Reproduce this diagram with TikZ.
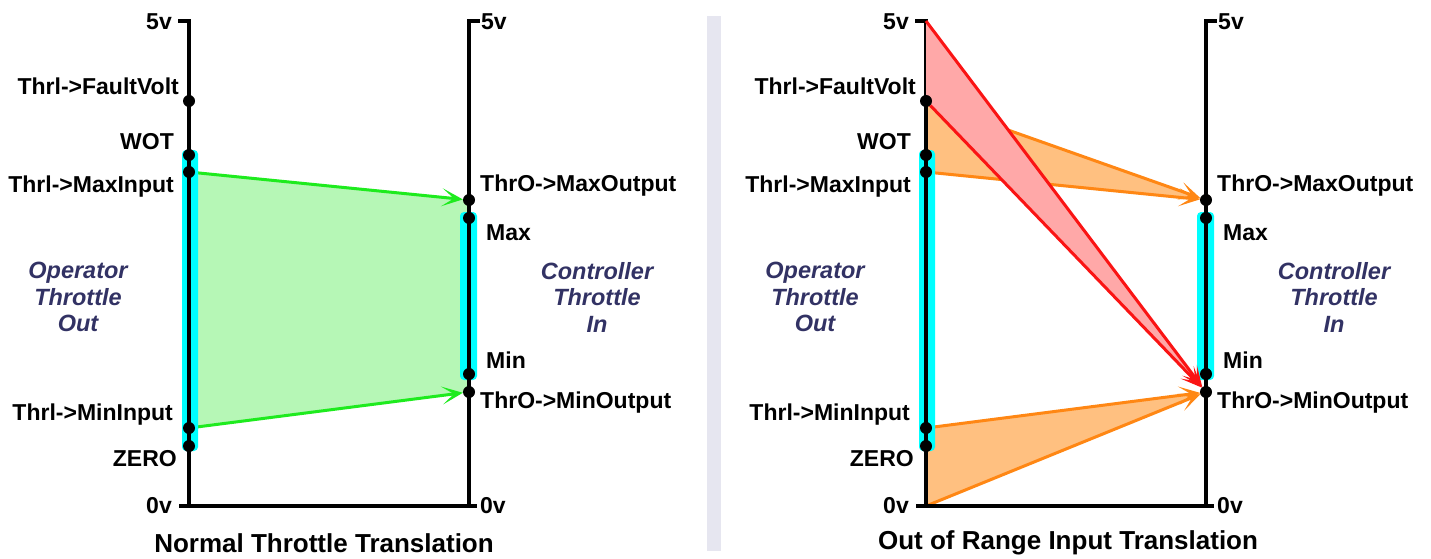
\documentclass[tikz,border=0pt]{standalone}
\usepackage{fontspec}
\setmainfont{Liberation Sans}
\usetikzlibrary{arrows.meta}
\definecolor{gfill}{RGB}{182,247,182}
\definecolor{gline}{RGB}{30,235,30}
\definecolor{rfill}{RGB}{255,168,168}
\definecolor{rline}{RGB}{250,20,20}
\definecolor{ofill}{RGB}{255,192,128}
\definecolor{oline}{RGB}{255,135,20}
\definecolor{barcol}{RGB}{0,255,255}
\definecolor{sepcol}{RGB}{230,230,240}
\definecolor{italcol}{RGB}{50,50,100}
\pgfdeclarelayer{bgA}
\pgfdeclarelayer{bgB}
\pgfsetlayers{bgA,bgB,main}
\begin{document}
\begin{tikzpicture}[x=1pt,y=-1pt,
 dot/.style={circle,fill=black,inner sep=0pt,minimum size=12pt},
 lbl/.style={font=\fontsize{23}{25}\selectfont\bfseries,inner sep=0pt},
 lbll/.style={lbl,anchor=east},
 lblr/.style={lbl,anchor=west},
 ital/.style={font=\fontsize{23.5}{26.5}\selectfont\bfseries\itshape,text=italcol,align=center,inner sep=0pt},
 ttl/.style={font=\fontsize{26}{28}\selectfont\bfseries,inner sep=0pt},
 axisline/.style={line width=3.3pt,black},
 arr/.style={line width=3pt,-{Stealth[length=21pt,width=18pt,inset=12pt]}},
]
\useasboundingbox (0,0) rectangle (1431,559);
\fill[sepcol] (707,16) rectangle (721,551);

\foreach \p/\o in {A/0,B/737}{
 \begin{scope}[xshift=\o pt]
  \coordinate (top\p) at (189,21);
  \coordinate (bot\p) at (189,506);
  \node[dot] (fv\p) at (189,101) {};
  \node[dot] (wot\p) at (189,155) {};
  \node[dot] (maxi\p) at (189,172) {};
  \node[dot] (mini\p) at (189,428) {};
  \node[dot] (zero\p) at (189,446) {};
  \node[dot] (maxo\p) at (469,200) {};
  \node[dot] (max\p) at (469,218) {};
  \node[dot] (min\p) at (469,374) {};
  \node[dot] (mino\p) at (469,392) {};
  \begin{pgfonlayer}{bgB}
   \fill[barcol,rounded corners=4pt] (182,150) rectangle (198,451);
   \fill[barcol,rounded corners=4pt] (460,212) rectangle (477,380);
   \draw[axisline] (178,21) -- (189,21) -- (189,506);
   \draw[axisline] (480,21) -- (469,21) -- (469,506);
   \draw[axisline] (179,506) -- (477,506);
  \end{pgfonlayer}
  \node[lbll] (l5v\p) at (172,22) {5v};
  \node[lbll] (lfv\p) at (179,86) {Thrl->FaultVolt};
  \node[lbll] (lwot\p) at (174,142) {WOT};
  \node[lbll] (lmaxi\p) at (174,187) {Thrl->MaxInput};
  \node[lbll] (lmini\p) at (173,415) {Thrl->MinInput};
  \node[lbll] (lzero\p) at (177,459) {ZERO};
  \node[lbll] (l0v\p) at (172,506) {0v};
  \node[lblr] (r5v\p) at (481,22) {5v};
  \node[lblr] (lmaxo\p) at (480,186) {ThrO->MaxOutput};
  \node[lblr] (lmax\p) at (486,233) {Max};
  \node[lblr] (lmin\p) at (486,360) {Min};
  \node[lblr] (lmino\p) at (480,403) {ThrO->MinOutput};
  \node[lblr] (r0v\p) at (480,506) {0v};
  \node[ital] (op\p) at (78,297) {Operator\\Throttle\\Out};
  \node[ital] (ct\p) at (597,297) {Controller\\Throttle\\In};
 \end{scope}
}
\node[ttl] (titleA) at (324,543) {Normal Throttle Translation};
\node[ttl] (titleB) at (1068,543) {Out of Range Input Translation};

\begin{pgfonlayer}{bgA}
 \fill[gfill] (maxiA.center) -- (maxoA.center) -- (minoA.center) -- (miniA.center) -- cycle;
 \draw[arr,gline] (maxiA) -- (maxoA);
 \draw[arr,gline] (miniA) -- (minoA);
 \fill[ofill] (fvB.center) -- (maxoB.center) -- (maxiB.center) -- cycle;
 \fill[ofill] (miniB.center) -- (minoB.center) -- (botB) -- cycle;
 \draw[arr,oline] (fvB) -- (maxoB);
 \draw[arr,oline] (maxiB) -- (maxoB);
 \draw[arr,oline] (miniB) -- (minoB);
 \draw[arr,oline] (botB) -- (minoB);
\end{pgfonlayer}
\begin{pgfonlayer}{bgB}
 \fill[rfill] (topB) -- (minoB.center) -- (fvB.center) -- cycle;
 \draw[arr,rline] (topB) -- (minoB);
 \draw[arr,rline] (fvB) -- (minoB);
\end{pgfonlayer}
\end{tikzpicture}
\end{document}
